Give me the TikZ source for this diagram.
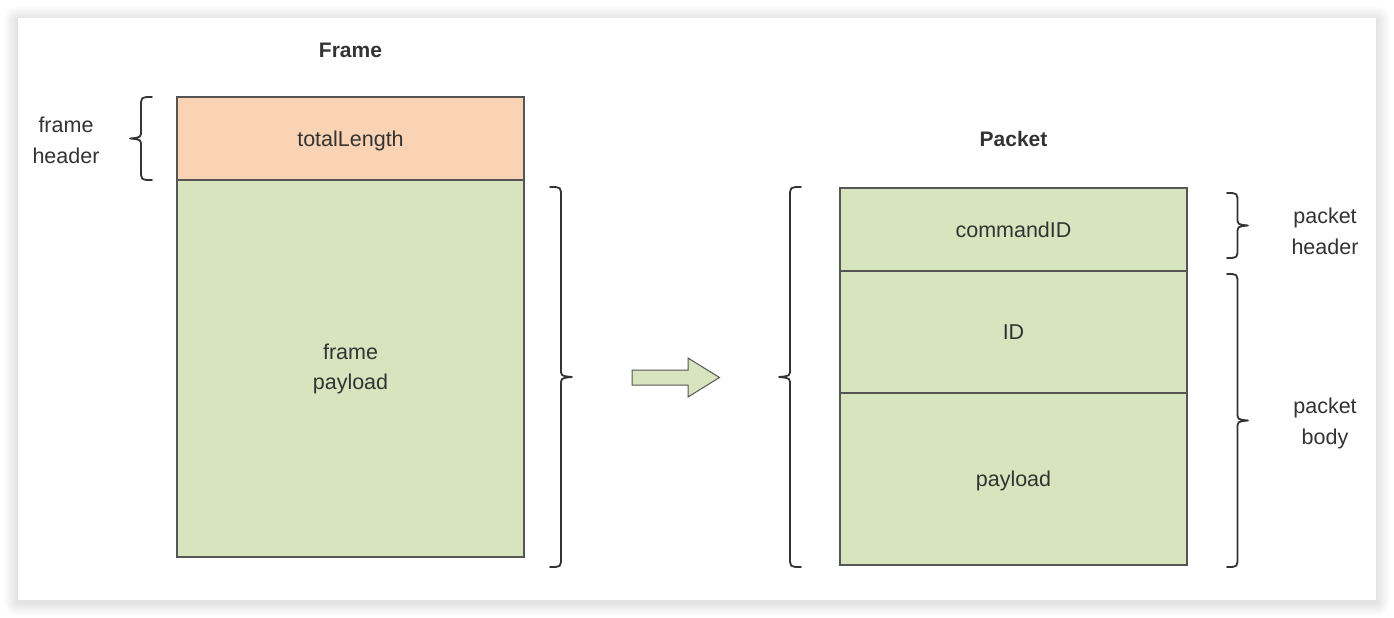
\documentclass[tikz,border=0pt]{standalone}
\usepackage{fontspec}
\setmainfont{Liberation Sans}
\definecolor{hdrfill}{HTML}{FAD3B5}
\definecolor{bodyfill}{HTML}{D7E4BE}
\definecolor{boxline}{HTML}{555555}
\definecolor{txt}{HTML}{333333}
\definecolor{bracecol}{HTML}{333333}
\tikzset{
  field/.style={draw=boxline, line width=1.1pt, minimum width=347pt, inner sep=0pt, outer sep=0pt,
    text=txt, font=\fontsize{21.5}{30}\selectfont, align=center},
  oneline/.style={text height=15.5pt, text depth=0pt},
  label/.style={text=txt, font=\fontsize{21.5}{31}\selectfont, align=center, inner sep=0pt},
  title/.style={text=txt, font=\fontsize{21}{24}\selectfont\bfseries, inner sep=0pt,
    text height=15pt, text depth=0pt},
  curlyline/.style={draw=bracecol, line width=1.8pt, line cap=round, line join=round},
}
% vertical curly brace: #1 x of the ends, #2 top y, #3 bottom y, #4 signed amplitude
\newcommand\vcurly[4]{%
  \pgfmathsetmacro\bxm{#1+(#4)/2}%
  \pgfmathsetmacro\bxt{#1+(#4)}%
  \pgfmathsetmacro\bym{(#2+#3)/2}%
  \draw[curlyline] (#1,#2) .. controls (\bxm,#2) .. (\bxm,#2+10)
    -- (\bxm,\bym-8) .. controls (\bxm,\bym-1) .. (\bxt,\bym)
    .. controls (\bxm,\bym+1) .. (\bxm,\bym+8)
    -- (\bxm,#3-10) .. controls (\bxm,#3) .. (#1,#3);
}
\begin{document}
\begin{tikzpicture}[x=1pt, y=-1pt]
\useasboundingbox (0,0) rectangle (1394,618);
\fill[white] (0,0) rectangle (1394,618);
% shadow of the card
\foreach \i in {1,...,14} {
  \fill[black, opacity=0.006, rounded corners=\i pt] (18-\i,18-\i+2) rectangle (1376+\i,600+\i+2);
}
\fill[white] (18,18) rectangle (1376,600);

% Frame
\node[title] (frametitle) at (350.5,49.7) {Frame};
\node[field, oneline, fill=hdrfill, minimum height=83pt] (total) at (350.5,138.5) {totalLength};
\node[field, fill=bodyfill, minimum height=377pt, anchor=north] (fpay) at (total.south) {frame\\payload};

% Packet
\node[title] (packettitle) at (1013.5,139.2) {Packet};
\node[field, oneline, fill=bodyfill, minimum height=83pt] (cmd) at (1013.5,229.5) {commandID};
\node[field, oneline, fill=bodyfill, minimum height=122pt, anchor=north] (pid) at (cmd.south) {ID};
\node[field, oneline, fill=bodyfill, minimum height=172pt, anchor=north] (ppay) at (pid.south) {payload};

% labels
\node[label] (fhdr) at (66,140.5) {frame\\header};
\node[label] (phdr) at (1325,231) {packet\\header};
\node[label] (pbody) at (1325,423.5) {packet\\body};

% braces
\vcurly{152}{97}{180}{-22}
\vcurly{550}{187}{567}{22}
\vcurly{801}{187}{567}{-22}
\vcurly{1227}{193}{258}{21}
\vcurly{1227}{274}{567}{21}

% block arrow
\draw[draw=boxline, line width=1pt, fill=bodyfill, line join=miter]
  (632,370) -- (688,370) -- (688,358) -- (719.5,377.5) -- (688,397) -- (688,385) -- (632,385) -- cycle;
\end{tikzpicture}
\end{document}
